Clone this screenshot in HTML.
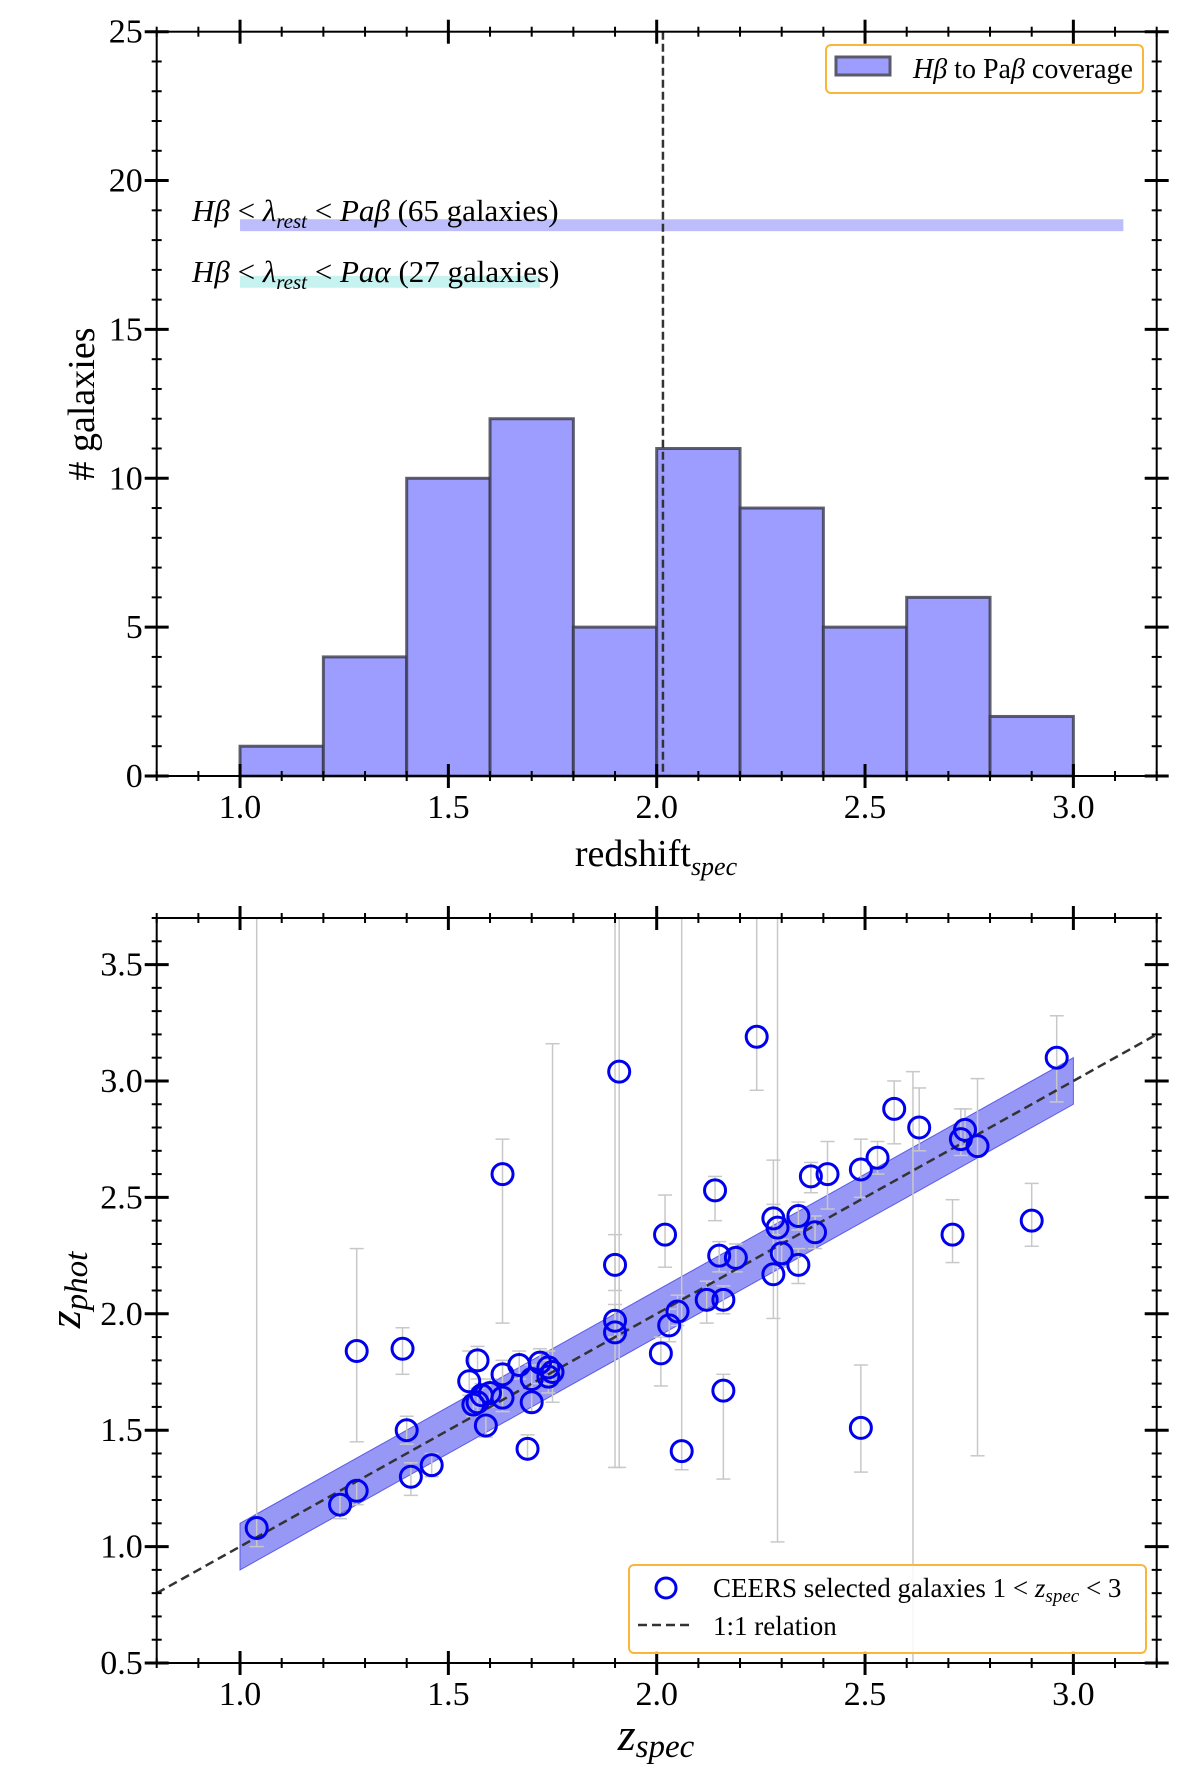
<!DOCTYPE html>
<html><head><meta charset="utf-8">
<style>
html,body{margin:0;padding:0;background:#fff;}
svg{display:block;font-family:"Liberation Serif",serif;}
</style></head>
<body>
<svg id="fig" width="1200" height="1769" viewBox="0 0 1200 1769" xmlns="http://www.w3.org/2000/svg">
<g id="topPanel"></g>
<g id="botPanel"></g>
</svg>
<script>
// ---- Histogram data ----
const binEdges = [1.0,1.2,1.4,1.6,1.8,2.0,2.2,2.4,2.6,2.8,3.0];
const binCounts = [1,4,10,12,5,11,9,5,6,2];
const histXTicks = [1.0,1.5,2.0,2.5,3.0];
const histYTicks = [0,5,10,15,20,25];
const coverageBeta = [1.0,3.12,18.3,18.7];
const coverageAlpha = [1.0,1.72,16.4,16.8];
const vline = [2.015];

// ---- Scatter data ----
const zspec = [1.04,1.24,1.28,1.28,1.39,1.40,1.41,1.46,1.55,1.56,1.57,1.57,1.58,1.59,1.60,1.63,1.63,1.63,1.67,1.69,1.70,1.70,1.72,1.74,1.74,1.75,1.90,1.90,1.90,1.91,2.01,2.02,2.03,2.05,2.06,2.12,2.14,2.15,2.16,2.16,2.19,2.24,2.28,2.28,2.29,2.30,2.34,2.34,2.37,2.38,2.41,2.49,2.49,2.53,2.57,2.63,2.71,2.73,2.74,2.77,2.90,2.96];
const zphot = [1.08,1.18,1.24,1.84,1.85,1.50,1.30,1.35,1.71,1.61,1.80,1.62,1.65,1.52,1.66,2.60,1.74,1.64,1.78,1.42,1.72,1.62,1.79,1.77,1.73,1.75,2.21,1.97,1.92,3.04,1.83,2.34,1.95,2.01,1.41,2.06,2.53,2.25,2.06,1.67,2.24,3.19,2.41,2.17,2.37,2.26,2.42,2.21,2.59,2.35,2.60,2.62,1.51,2.67,2.88,2.80,2.34,2.75,2.79,2.72,2.40,3.10];
const errLo = [1.0,1.12,1.18,1.45,1.74,1.44,1.22,1.30,1.65,1.56,1.72,1.58,1.60,1.47,1.60,1.96,1.68,1.58,1.72,1.38,1.66,1.58,1.70,1.70,1.66,1.62,2.10,1.90,1.34,1.34,1.69,2.20,1.88,1.95,1.33,1.96,2.40,2.18,2.00,1.29,2.18,2.96,2.34,1.98,1.02,2.20,2.36,2.13,2.52,2.28,2.45,2.50,1.32,2.60,2.73,2.70,2.22,2.68,2.72,1.39,2.29,2.91];
const errHi = [3.7,1.22,1.28,2.28,1.94,1.56,1.36,1.40,1.84,1.66,1.86,1.68,1.70,1.56,1.72,2.75,1.80,1.70,1.84,1.48,1.78,1.68,1.85,1.84,1.80,3.16,2.34,2.04,3.7,3.7,1.90,2.51,2.02,2.08,3.7,2.14,2.59,2.31,2.12,1.74,2.30,3.7,2.47,2.66,3.7,2.32,2.48,2.28,2.65,2.42,2.74,2.75,1.78,2.74,3.00,2.97,2.49,2.88,2.88,3.01,2.56,3.28];
const hiddenBarX = [2.615];
const hiddenBarY = [0.5,3.04];
const scatXTicks = [1.0,1.5,2.0,2.5,3.0];
const scatYTicks = [0.5,1.0,1.5,2.0,2.5,3.0,3.5];

const NS="http://www.w3.org/2000/svg";
function mk(parent,tag,attrs,text){const e=document.createElementNS(NS,tag);for(const k in attrs)e.setAttribute(k,attrs[k]);if(text!==undefined)e.textContent=text;parent.appendChild(e);return e;}

const L=156.7,R=1156.7;
function X(v){return L+(v-0.8)*(R-L)/2.4;}
const T1=31.7,B1=776;
function Y1(v){return B1-(v/25)*(B1-T1);}
const T2=918,B2=1663;
function Y2(v){return B2-(v-0.5)*(B2-T2)/3.2;}

const topG=document.getElementById('topPanel');
const botG=document.getElementById('botPanel');
const TF=34;

function axes(g,T,B,yfun,yMajor,yMinorStep,yMin,yMax,fmtY,xTicks){
  for(let k=0;k<=24;k++){
    const v=0.8+k*0.1;
    const x=X(v);const maj=xTicks.some(t=>Math.abs(t-v)<1e-6);const l=maj?12:5;
    const t=mk(g,'line',{x1:x,x2:x,y1:B-l,y2:B+l,stroke:'#000','stroke-width':maj?3:2});
    
    
    const t2=mk(g,'line',{x1:x,x2:x,y1:T-l,y2:T+l,stroke:'#000','stroke-width':maj?3:2});
    
    
  }
  xTicks.forEach(v=>{const tx=mk(g,'text',{x:X(v),y:B+42,'font-size':TF,'text-anchor':'middle'},v.toFixed(1));
    
    });
  const n=Math.round((yMax-yMin)/yMinorStep);
  for(let k=0;k<=n;k++){
    const v=yMin+k*yMinorStep;
    const y=yfun(v);const maj=yMajor.some(t=>Math.abs(t-v)<1e-6);const l=maj?12:5;
    const t=mk(g,'line',{x1:L-l,x2:L+l,y1:y,y2:y,stroke:'#000','stroke-width':maj?3:2});
    
    
    const t2=mk(g,'line',{x1:R-l,x2:R+l,y1:y,y2:y,stroke:'#000','stroke-width':maj?3:2});
    
    
  }
  yMajor.forEach(v=>{const tx=mk(g,'text',{x:L-14,y:yfun(v)+11,'font-size':TF,'text-anchor':'end'},fmtY(v));
    
    });
  const fr=mk(g,'rect',{x:L,y:T,width:R-L,height:B-T,fill:'none',stroke:'#000','stroke-width':2});
  
  
}

// ---- Top panel ----
let r;
r=mk(topG,'rect',{x:X(coverageBeta[0]),y:Y1(coverageBeta[3]),width:X(coverageBeta[1])-X(coverageBeta[0]),height:Y1(coverageBeta[2])-Y1(coverageBeta[3]),fill:'#bdbdfb'});


r=mk(topG,'rect',{x:X(coverageAlpha[0]),y:Y1(coverageAlpha[3]),width:X(coverageAlpha[1])-X(coverageAlpha[0]),height:Y1(coverageAlpha[2])-Y1(coverageAlpha[3]),fill:'#c6f3ef'});


let t=mk(topG,'text',{x:192,y:221,'font-size':31});
t.innerHTML='<tspan font-style="italic">Hβ</tspan> &lt; <tspan font-style="italic">λ</tspan><tspan font-style="italic" font-size="21" dy="7">rest</tspan><tspan dy="-7"> &lt; </tspan><tspan font-style="italic">Paβ</tspan> (65 galaxies)';


t=mk(topG,'text',{x:192,y:282,'font-size':31});
t.innerHTML='<tspan font-style="italic">Hβ</tspan> &lt; <tspan font-style="italic">λ</tspan><tspan font-style="italic" font-size="21" dy="7">rest</tspan><tspan dy="-7"> &lt; </tspan><tspan font-style="italic">Paα</tspan> (27 galaxies)';



binCounts.forEach((c,i)=>{
  const x0=X(binEdges[i]),x1=X(binEdges[i+1]);
  const b=mk(topG,'rect',{x:x0,y:Y1(c),width:x1-x0,height:B1-Y1(c),fill:'#9d9dff',stroke:'#3a3a4a','stroke-opacity':0.8,'stroke-width':3});
  
  
});
const vl=mk(topG,'line',{x1:X(vline[0]),x2:X(vline[0]),y1:T1,y2:B1,stroke:'#333','stroke-width':2.5,'stroke-dasharray':'8,4'});


axes(topG,T1,B1,Y1,histYTicks,1,0,25,v=>String(v),histXTicks);
let lg=mk(topG,'g',{});


mk(lg,'rect',{x:826,y:45,width:317,height:48,rx:5,fill:'#fff',stroke:'#f8b73a','stroke-width':2});
mk(lg,'rect',{x:836,y:57,width:54,height:18,fill:'#9d9dff',stroke:'#5a5a6a','stroke-width':3});
t=mk(lg,'text',{x:913,y:78,'font-size':28});
t.innerHTML='<tspan font-style="italic">Hβ</tspan> to Pa<tspan font-style="italic">β</tspan> coverage';
t=mk(topG,'text',{x:656,y:866,'font-size':38,'text-anchor':'middle'});
t.innerHTML='redshift<tspan font-style="italic" font-size="26" dy="9">spec</tspan>';


t=mk(topG,'text',{x:0,y:0,'font-size':38,'text-anchor':'middle',transform:'translate(94,404) rotate(-90)'},'# galaxies');



// ---- Bottom panel ----
const clip=mk(botG,'clipPath',{id:'cp'});mk(clip,'rect',{x:L,y:T2,width:R-L,height:B2-T2});
const pg=mk(botG,'g',{'clip-path':'url(#cp)'});
const band=mk(pg,'polygon',{points:[[X(1),Y2(1.1)],[X(3),Y2(3.1)],[X(3),Y2(2.9)],[X(1),Y2(0.9)]].map(p=>p.join(',')).join(' '),fill:'#6b6bf2','fill-opacity':0.7,stroke:'#5a5ae8','stroke-width':1});


function ebar(x,lo,hi,name){
  const g=mk(pg,'g',{stroke:'#c8c8c8','stroke-width':1.5});
  
  
  mk(g,'line',{x1:X(x),x2:X(x),y1:Y2(lo),y2:Y2(hi)});
  mk(g,'line',{x1:X(x)-7,x2:X(x)+7,y1:Y2(lo),y2:Y2(lo)});
  mk(g,'line',{x1:X(x)-7,x2:X(x)+7,y1:Y2(hi),y2:Y2(hi)});
}
zspec.forEach((x,i)=>ebar(x,errLo[i],errHi[i],'error-bar'));
ebar(hiddenBarX[0],hiddenBarY[0],hiddenBarY[1],'error-bar-offscale');
const one=mk(pg,'line',{x1:X(0.8),y1:Y2(0.8),x2:X(3.2),y2:Y2(3.2),stroke:'#333','stroke-width':2.5,'stroke-dasharray':'9,5'});


zspec.forEach((x,i)=>{
  const c=mk(pg,'circle',{cx:X(x),cy:Y2(zphot[i]),r:10.5,fill:'none',stroke:'#0000ee','stroke-width':3});
  
  
});
axes(botG,T2,B2,Y2,scatYTicks,0.1,0.5,3.7,v=>v.toFixed(1),scatXTicks);
lg=mk(botG,'g',{});


mk(lg,'rect',{x:629,y:1565,width:517,height:88,rx:5,fill:'#fff','fill-opacity':0.85,stroke:'#f8b73a','stroke-width':2});
mk(lg,'circle',{cx:666,cy:1588,r:10,fill:'none',stroke:'#0000ee','stroke-width':3});
t=mk(lg,'text',{x:713,y:1597,'font-size':27});
t.innerHTML='CEERS selected galaxies 1 &lt; <tspan font-style="italic">z</tspan><tspan font-style="italic" font-size="19" dy="5">spec</tspan><tspan dy="-5"> &lt; 3</tspan>';
mk(lg,'line',{x1:638,x2:692,y1:1625,y2:1625,stroke:'#333','stroke-width':2.5,'stroke-dasharray':'9,5'});
mk(lg,'text',{x:713,y:1635,'font-size':27},'1:1 relation');
t=mk(botG,'text',{x:656,y:1750,'font-size':46,'text-anchor':'middle','font-style':'italic'});
t.innerHTML='z<tspan font-size="33" dy="7">spec</tspan>';


t=mk(botG,'text',{x:0,y:0,'font-size':46,'text-anchor':'middle','font-style':'italic',transform:'translate(80,1290) rotate(-90)'});
t.innerHTML='z<tspan font-size="33" dy="7">phot</tspan>';


</script>
</body></html>
